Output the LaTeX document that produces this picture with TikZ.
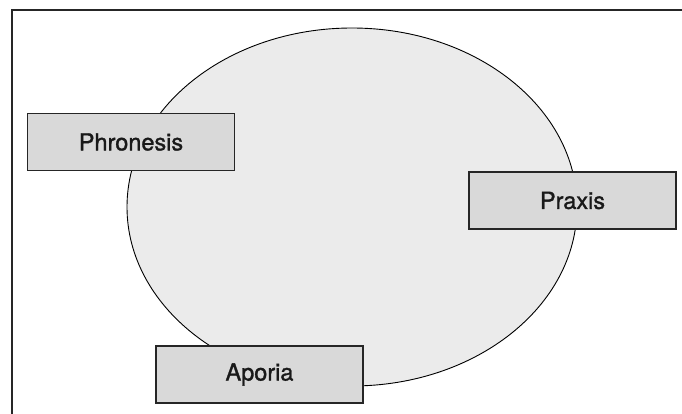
\documentclass[tikz,border=0pt]{standalone}
\usepackage{fontspec}
\setmainfont{TeX Gyre Heros}
\newfontfamily\lblfont[FakeBold=1.3]{TeX Gyre Heros}
\usetikzlibrary{shapes.geometric}
\begin{document}
\begin{tikzpicture}[x=1pt,y=-1pt,
  labelbox/.style={draw=black!85, line width=1.3pt, fill=black!15, minimum width=207pt, minimum height=57pt, inner sep=0pt, font=\lblfont\fontsize{23.5}{27}\selectfont, text=black!90},
  frameline/.style={draw=black!85, line width=2pt}]
\useasboundingbox (0,0) rectangle (682,414);
\fill[white] (0,0) rectangle (682,414);
\coordinate (tl) at (12,10);
\coordinate (tr) at (682,10);
\coordinate (bl) at (12,414);
\draw[frameline] (tr) -- (tl) -- (bl);
\node[ellipse, draw=black, line width=0.9pt, fill=black!8, minimum width=450pt, minimum height=358pt, inner sep=0pt] (circ) at (352,207) {};
\node[labelbox] (phr) at (131,142) {Phronesis};
\node[labelbox] (pra) at (572.5,200.5) {Praxis};
\node[labelbox] (apo) at (259.5,374.5) {Aporia};
\end{tikzpicture}
\end{document}
